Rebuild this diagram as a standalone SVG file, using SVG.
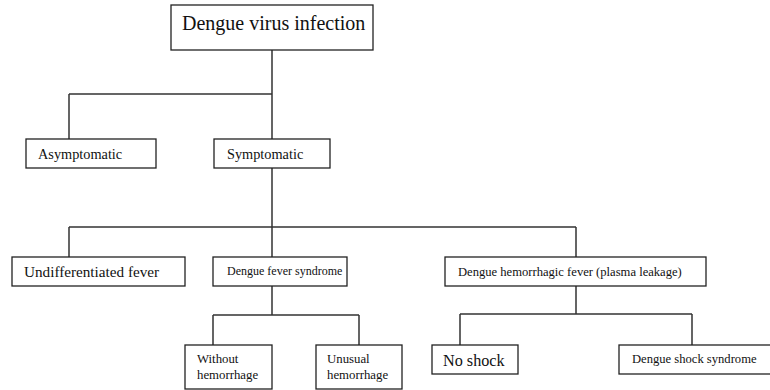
<svg xmlns="http://www.w3.org/2000/svg" width="770" height="390" viewBox="0 0 770 390">
<style>
.box{fill:#fff;stroke:#222;stroke-width:1.3}
.ln{fill:none;stroke:#333;stroke-width:1.5}
text{font-family:"Liberation Serif","Times New Roman",serif;fill:#111}
</style>
<rect width="770" height="390" fill="#fff"/>
<g id="connectors">
<path class="ln" d="M272,50 V139 M69,94 H272 M69,94 V139"/>
<path class="ln" d="M272,168 V257 M69,227 H576 M69,227 V257 M576,227 V257"/>
<path class="ln" d="M272,286 V315 M213,315 H359 M213,315 V345 M359,315 V345"/>
<path class="ln" d="M576,286 V314 M460,314 H692 M460,314 V345 M692,314 V345"/>
</g>
<g id="dengue-virus-infection"><rect class="box" x="171" y="5" width="202" height="45"/><text x="182" y="30" font-size="20">Dengue virus infection</text></g>
<g id="asymptomatic"><rect class="box" x="26" y="139" width="130" height="29"/><text x="38" y="159" font-size="14.3">Asymptomatic</text></g>
<g id="symptomatic"><rect class="box" x="214" y="139" width="116" height="29"/><text x="227" y="159" font-size="14.3">Symptomatic</text></g>
<g id="undifferentiated-fever"><rect class="box" x="12" y="257" width="173" height="29"/><text x="24" y="277" font-size="15.2">Undifferentiated fever</text></g>
<g id="dengue-fever-syndrome"><rect class="box" x="213" y="257" width="134" height="29"/><text x="227" y="275" font-size="12">Dengue fever syndrome</text></g>
<g id="dhf"><rect class="box" x="445" y="257" width="261" height="29"/><text x="458" y="276" font-size="12.6">Dengue hemorrhagic fever (plasma leakage)</text></g>
<g id="without-hemorrhage"><rect class="box" x="185" y="345" width="87" height="44"/><text x="197" y="363" font-size="12.8">Without</text><text x="197" y="379" font-size="12.8">hemorrhage</text></g>
<g id="unusual-hemorrhage"><rect class="box" x="316" y="345" width="86" height="44"/><text x="327" y="363" font-size="12.8">Unusual</text><text x="327" y="379" font-size="12.8">hemorrhage</text></g>
<g id="no-shock"><rect class="box" x="432" y="345" width="86" height="29"/><text x="443" y="366" font-size="16.2">No shock</text></g>
<g id="dengue-shock-syndrome"><rect class="box" x="619" y="345" width="160" height="29"/><text x="632" y="363" font-size="12.6">Dengue shock syndrome</text></g>
</svg>
